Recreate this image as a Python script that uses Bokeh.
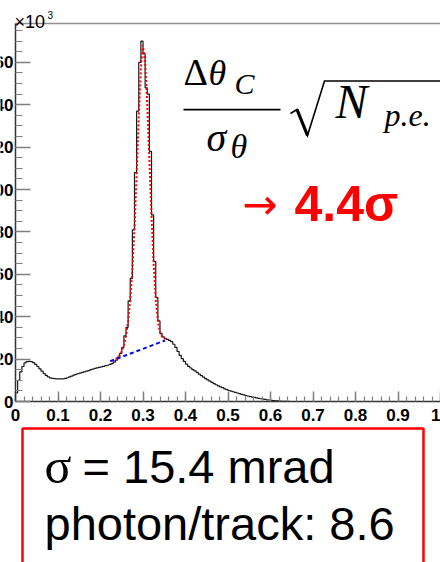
from bokeh.plotting import figure
from bokeh.models import LinearAxis, FixedTicker, Range1d, Label, BoxAnnotation
from bokeh.embed import file_html
from bokeh.resources import INLINE

# ---------------- data (counts in units of 10^3) ----------------
bin_width = 0.005
counts = [
    4.0, 10.0, 14.0, 16.5, 18.2, 18.8, 18.9, 18.8, 18.3, 17.5,
    16.5, 15.4, 14.3, 13.2, 12.3, 11.6, 11.1, 10.9, 10.8, 10.7,
    10.7, 10.7, 10.7, 10.9, 11.2, 11.6, 12.0, 12.4, 12.8, 13.1,
    13.4, 13.7, 14.0, 14.3, 14.6, 15.0, 15.3, 15.6, 15.9, 16.1,
    16.3, 16.6, 16.9, 17.1, 17.5, 17.9, 18.6, 19.5, 21.0, 22.7,
    25.5, 31.0, 35.0, 47.5, 58.0, 81.0, 108.0, 137.0, 160.0, 170.0,
    164.0, 148.0, 145.0, 118.0, 88.0, 66.0, 49.0, 38.0, 32.0, 30.5,
    29.8, 29.3, 28.8, 28.2, 27.0, 25.5, 23.6, 21.8, 20.2, 18.9,
    17.6, 16.6, 15.8, 15.0, 14.4, 13.7, 12.9, 12.2, 11.5, 10.8,
    10.2, 9.6, 9.0, 8.4, 7.9, 7.4, 6.9, 6.5, 6.0, 5.6,
    5.2, 4.9, 4.6, 4.3, 4.0, 3.7, 3.4, 3.1, 2.8, 2.6,
    2.3, 2.1, 1.9, 1.7, 1.5, 1.3, 1.1, 1.0, 0.8, 0.7,
    0.55, 0.45, 0.35, 0.25, 0.2, 0.12, 0.08, 0.04, 0.02, 0.0,
    0.0, 0.0, 0.0, 0.0, 0.0, 0.0, 0.0, 0.0, 0.0, 0.0,
]
fit_x = [0.228, 0.235, 0.24, 0.245, 0.25, 0.255, 0.26, 0.265, 0.27, 0.275,
         0.28, 0.285, 0.29, 0.295, 0.2995, 0.305, 0.31, 0.315, 0.32, 0.325,
         0.33, 0.335, 0.34, 0.345, 0.35, 0.353]
fit_y = [19.0, 19.8, 20.6, 21.8, 23.6, 26.5, 31.0, 38.0, 48.0, 62.0,
         82.0, 107.0, 134.0, 157.0, 168.0, 160.0, 140.0, 114.0, 88.0, 65.0,
         48.0, 38.0, 32.5, 30.5, 29.8, 29.5]
bkg_x = [0.223, 0.352]
bkg_y = [19.0, 28.8]

x_ticks = [0, 0.1, 0.2, 0.3, 0.4, 0.5, 0.6, 0.7, 0.8, 0.9, 1]
x_tick_labels = ["0", "0.1", "0.2", "0.3", "0.4", "0.5", "0.6", "0.7", "0.8", "0.9", "1"]
y_ticks = [0, 20, 40, 60, 80, 100, 120, 140, 160]
y_tick_labels = ["0", "20", "40", "60", "80", "100", "120", "140", "160"]

# ---------------- layout helpers (pixel -> data) ----------------
W, H = 440, 562
OX, OY = 15, 401          # pixel of data origin
SX, SY = 425.0, 2.12      # pixels per x unit, pixels per y unit


def X(cx):
    return (cx - OX) / SX


def Y(cy):
    return (OY - cy) / SY


p = figure(width=W, height=H, x_range=Range1d(X(0), X(W)), y_range=Range1d(Y(H), Y(0)),
           min_border=0, toolbar_location=None, x_axis_location=None, y_axis_location=None,
           output_backend="svg", outline_line_color=None, title=None,
           background_fill_color="white", border_fill_color="white")
p.xgrid.visible = False
p.ygrid.visible = False

LABEL_FONT = "Liberation Sans"

xax = LinearAxis(fixed_location=0, bounds=(0, 1),
                 ticker=FixedTicker(ticks=x_ticks, minor_ticks=[i * 0.02 for i in range(51)]),
                 major_label_overrides=dict(zip(x_ticks, x_tick_labels)))
xax.axis_line_color = "#333333"
xax.axis_line_width = 1.5
xax.major_tick_in = 10
xax.major_tick_out = 0
xax.minor_tick_in = 5
xax.minor_tick_out = 0
xax.major_tick_line_color = "#808080"
xax.minor_tick_line_color = "#808080"
xax.major_tick_line_width = 1.5
xax.minor_tick_line_width = 1.2
xax.major_label_standoff = 7
xax.major_label_text_font = LABEL_FONT
xax.major_label_text_font_style = "bold"
xax.major_label_text_font_size = "17px"
xax.major_label_text_color = "black"
p.add_layout(xax, "below")

top_y = Y(23)
yax = LinearAxis(fixed_location=0, bounds=(0, top_y),
                 ticker=FixedTicker(ticks=y_ticks, minor_ticks=list(range(0, 180, 5))),
                 major_label_overrides=dict(zip(y_ticks, y_tick_labels)))
yax.axis_line_color = "#333333"
yax.axis_line_width = 1.5
yax.major_tick_in = 15
yax.major_tick_out = 0
yax.minor_tick_in = 7
yax.minor_tick_out = 0
yax.major_tick_line_color = "#808080"
yax.minor_tick_line_color = "#808080"
yax.major_tick_line_width = 1.5
yax.minor_tick_line_width = 1.2
yax.major_label_standoff = 2
yax.major_label_text_font = LABEL_FONT
yax.major_label_text_font_style = "bold"
yax.major_label_text_font_size = "17px"
yax.major_label_text_color = "black"
p.add_layout(yax, "left")

topax = LinearAxis(fixed_location=top_y, bounds=(0, 1), ticker=FixedTicker(ticks=[], minor_ticks=[]))
topax.axis_line_color = "#909090"
topax.axis_line_width = 1.5
topax.major_label_text_font_size = "0px"
p.add_layout(topax, "above")

# ---------------- histogram + fits ----------------
edges = [i * bin_width for i in range(len(counts) + 1)]
p.step(x=edges, y=counts + [counts[-1]], mode="after", line_color="#1a1a1a", line_width=1.2)
p.line(x=fit_x, y=fit_y, line_color="red", line_width=2, line_dash="2 2")
p.line(x=bkg_x, y=bkg_y, line_color="blue", line_width=2, line_dash="4 3")

# ---------------- texts ----------------


def lab(cx, cy, text, size, font="Liberation Serif", style="normal", color="black", k=0.4):
    # cy is the wanted baseline in pixels; k compensates the renderer's baseline offset
    p.add_layout(Label(x=X(cx), y=Y(cy - k * size), text=text, text_font=font,
                       text_font_size=f"{size}px", text_font_style=style, text_color=color,
                       text_align="left", text_baseline="alphabetic"))


lab(14, 21, "\u00d710", 18, font=LABEL_FONT, k=0)
lab(47, 14, "3", 10, font=LABEL_FONT, k=0)

# formula  (Delta theta_C / sigma_theta) sqrt(N_p.e.)
lab(183, 87, "\u0394", 38)
lab(208, 87, "\u03b8", 36, style="italic")
lab(234, 95, "C", 30, style="italic")
p.add_layout(BoxAnnotation(left=X(183), right=X(280), top=Y(108.3), bottom=Y(110.0),
                           fill_color="black", fill_alpha=1, line_alpha=0))
lab(206, 153, "\u03c3", 40, style="italic")
lab(230, 160, "\u03b8", 34, style="italic")
# radical sign
p.line(x=[X(290), X(296.5), X(307), X(324), X(445)],
       y=[Y(113), Y(109), Y(135), Y(80.5), Y(80.5)], line_color="black", line_width=1.6,
       line_join="miter")
p.line(x=[X(296.5), X(307)], y=[Y(109), Y(135)], line_color="black", line_width=3.2)
lab(335, 120, "N", 48, style="italic")
lab(384, 127, "p.e.", 32, style="italic")

lab(242, 221, "\u2192", 42, font="DejaVu Sans", color="red")
lab(294, 223, "4.4\u03c3", 50, font=LABEL_FONT, style="bold", color="red")

# bottom box
p.add_layout(BoxAnnotation(left=X(22), right=X(423), top=Y(428), bottom=Y(600),
                           fill_alpha=0, line_color="red", line_alpha=1, line_width=2.5))
lab(44, 485, "\u03c3", 50)
lab(82, 485, "= 15.4 mrad", 47, font=LABEL_FONT)
lab(44, 542, "photon/track: 8.6", 47, font=LABEL_FONT)

open("out.html", "w").write(file_html(p, INLINE))
